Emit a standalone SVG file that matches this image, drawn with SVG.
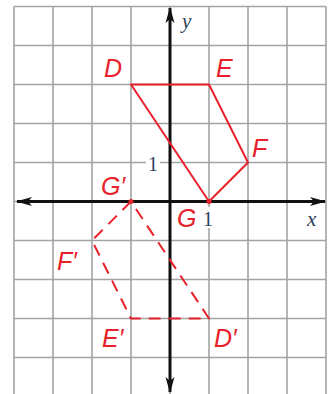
<svg xmlns="http://www.w3.org/2000/svg" width="333" height="394" viewBox="0 0 333 394">
<defs>
<style>
.grid{stroke:#a3a3a3;stroke-width:1.6;fill:none}
.axis{stroke:#111;stroke-width:3;fill:none}
.fig{stroke:#e8202a;stroke-width:2;fill:none;stroke-linejoin:round}
.dash{stroke-dasharray:12 8}
.lbl{font-family:"Liberation Sans",Arial,sans-serif;font-style:italic;font-size:25px;fill:#e8202a}
.num{font-family:"Liberation Serif","Times New Roman",serif;font-size:20px;fill:#2d3f5c}
.var{font-family:"Liberation Serif","Times New Roman",serif;font-style:italic;font-size:21px;fill:#2d3f5c}
</style>
<marker id="ah" viewBox="0 0 16 10" refX="15" refY="5" markerWidth="16" markerHeight="10" markerUnits="userSpaceOnUse" orient="auto">
<path d="M0,0.5 L16,5 L0,9.5 L4,5 Z" fill="#111"/>
</marker>
</defs>
<rect width="333" height="394" fill="#fff"/>
<g id="grid" class="grid">
<path d="M14,6.5V394 M53,6.5V394 M92,6.5V394 M131,6.5V394 M170,6.5V394 M209,6.5V394 M248,6.5V394 M287,6.5V394 M326,6.5V394"/>
<path d="M14,6.5H326 M14,45.5H326 M14,84.5H326 M14,123.5H326 M14,162.5H326 M14,201.5H326 M14,240.5H326 M14,279.5H326 M14,318.5H326 M14,357.5H326"/>
</g>
<g id="axes">
<line class="axis" x1="170" y1="201.5" x2="17" y2="201.5" marker-end="url(#ah)"/>
<line class="axis" x1="170" y1="201.5" x2="325" y2="201.5" marker-end="url(#ah)"/>
<line class="axis" x1="170" y1="201.5" x2="170" y2="8" marker-end="url(#ah)"/>
<line class="axis" x1="170" y1="201.5" x2="170" y2="392" marker-end="url(#ah)"/>
</g>
<g id="ticks">
<rect x="146" y="153" width="14" height="20" fill="#fff"/>
<text class="num" x="148" y="171">1</text>
<rect x="202" y="207" width="12" height="21" fill="#fff"/>
<text class="num" x="203" y="226">1</text>
<text class="var" x="307" y="226">x</text>
<text class="var" x="182" y="28">y</text>
</g>
<g id="connectors">
<polygon id="DEFG" class="fig" points="131,84.5 209,84.5 248,162.5 209,201.5"/>
<polygon id="DEFG-prime" class="fig dash" points="131,201.5 92,240.5 131,318.5 209,318.5"/>
<circle cx="209" cy="201.5" r="2.5" fill="#e8202a"/>
<circle cx="131" cy="201.5" r="2.5" fill="#e8202a"/>
</g>
<g id="D"><text class="lbl" x="104" y="77">D</text></g>
<g id="E"><text class="lbl" x="216" y="77">E</text></g>
<g id="F"><text class="lbl" x="252" y="157">F</text></g>
<g id="G"><text class="lbl" x="177" y="227">G</text></g>
<g id="Gp"><text class="lbl" x="101" y="195">G′</text></g>
<g id="Fp"><text class="lbl" x="57" y="270">F′</text></g>
<g id="Ep"><text class="lbl" x="102" y="347">E′</text></g>
<g id="Dp"><text class="lbl" x="214" y="347">D′</text></g>
</svg>
